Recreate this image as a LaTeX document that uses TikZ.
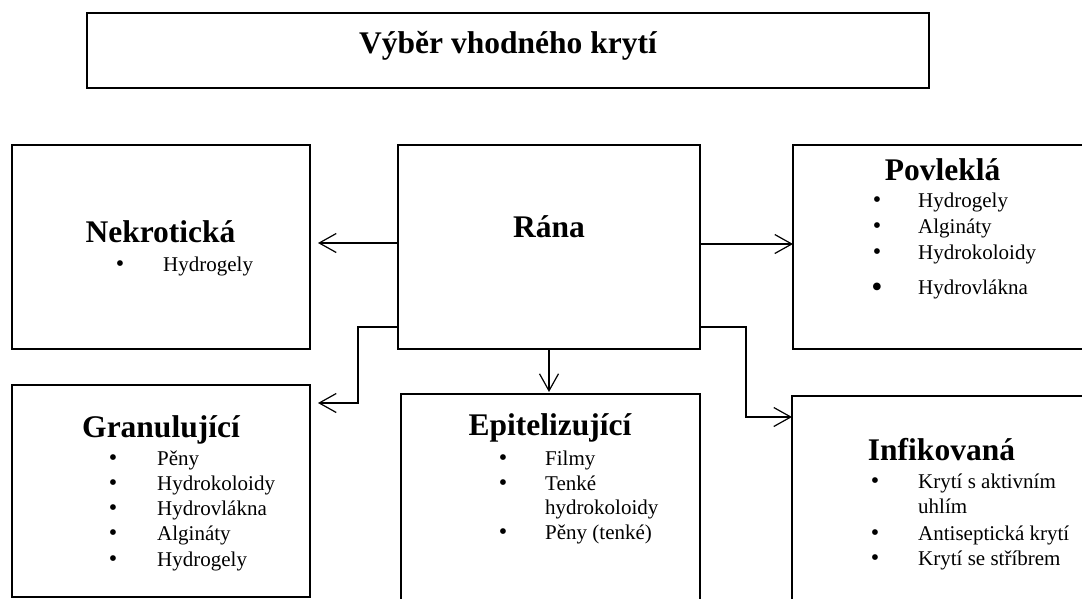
\documentclass[tikz,border=0pt]{standalone}
\usepackage{fontspec}
\setmainfont{Liberation Serif}
\usetikzlibrary{arrows.meta}
\newcommand\bitem[5]{%
  \node[bul] (#1b) at (#2,#4) {•};
  \node[itx] (#1t) at (#3,#4) {#5};}
\newcommand\citem[4]{%
  \node[itx] (#1t) at (#2,#3) {#4};}
\begin{document}
\begin{tikzpicture}[x=1pt,y=-1pt,
  box/.style={draw,line width=2pt,inner sep=0,outer sep=0},
  hd/.style={font=\fontsize{31.5}{36}\selectfont\bfseries,anchor=base,inner sep=0},
  itx/.style={font=\fontsize{21}{25}\selectfont,anchor=base west,inner sep=0},
  bul/.style={font=\fontsize{24}{25}\selectfont,anchor=base,inner sep=0},
  arr/.style={line width=1.2pt,-{Straight Barb[length=17pt,width=19pt,line width=1.2pt]}}]
\useasboundingbox (0,0) rectangle (1082,598);
% boxes
\node[box,minimum width=842pt,minimum height=75pt] (title) at (508,50.5) {};
\node[box,minimum width=298pt,minimum height=204pt] (nek) at (161,247) {};
\node[box,minimum width=302pt,minimum height=204pt] (rana) at (549,247) {};
\node[box,minimum width=299pt,minimum height=204pt] (pov) at (942.5,247) {};
\node[box,minimum width=298pt,minimum height=212pt] (gran) at (161,491) {};
\node[box,minimum width=299pt,minimum height=226pt] (epi) at (550.5,507) {};
\node[box,minimum width=300pt,minimum height=224pt] (inf) at (942,508) {};
% texts
\node[hd] (titlet) at (508,53) {Výběr vhodného krytí};
\node[hd] (nekh) at (160.5,242) {Nekrotická};
\bitem{n1}{120}{163}{271}{Hydrogely}
\node[hd] (ranah) at (549,237) {Rána};
\node[hd] (povh) at (942.5,180) {Povleklá};
\bitem{p1}{877}{918}{207}{Hydrogely}
\bitem{p2}{877}{918}{233}{Alginát\kern0pt y}
\bitem{p3}{877}{918}{259}{Hydrokoloidy}
\node[bul,font=\fontsize{32}{33}\selectfont] (p4b) at (877,297) {•};
\node[itx] (p4t) at (918,294) {Hydrovlákna};
\node[hd] (granh) at (161,437) {Granulující};
\bitem{g1}{113}{157}{465}{Pěny}
\bitem{g2}{113}{157}{490}{Hydrokoloidy}
\bitem{g3}{113}{157}{515}{Hydrovlákna}
\bitem{g4}{113}{157}{540}{Alginát\kern0pt y}
\bitem{g5}{113}{157}{566}{Hydrogely}
\node[hd] (epih) at (550,435) {Epitelizující};
\bitem{e1}{503}{545}{465}{Filmy}
\bitem{e2}{503}{545}{490}{Tenké}
\citem{e3}{545}{514}{hydrokoloidy}
\bitem{e4}{503}{545}{539}{Pěny (tenké)}
\node[hd] (infh) at (941.5,460) {Infikovaná};
\bitem{i1}{875}{918}{488}{Krytí s aktivním}
\citem{i2}{918}{513}{uhlím}
\bitem{i3}{875}{918}{540}{Antiseptická krytí}
\bitem{i4}{875}{918}{565}{Krytí se stříbrem}
% connectors
\draw[arr,shorten >=8pt] (rana.west |- 0,243) -- (nek.east |- 0,243);
\draw[arr] (rana.east |- 0,244) -- (pov.west |- 0,244);
\draw[arr,shorten >=8pt] (rana.west |- 0,327) -- (358,327) -- (358,403) -- (gran.east |- 0,403);
\draw[arr,shorten >=2pt] (rana.south) -- (rana.south |- epi.north);
\draw[arr] (rana.east |- 0,327) -- (746,327) -- (746,417) -- (inf.west |- 0,417);
\end{tikzpicture}
\end{document}
